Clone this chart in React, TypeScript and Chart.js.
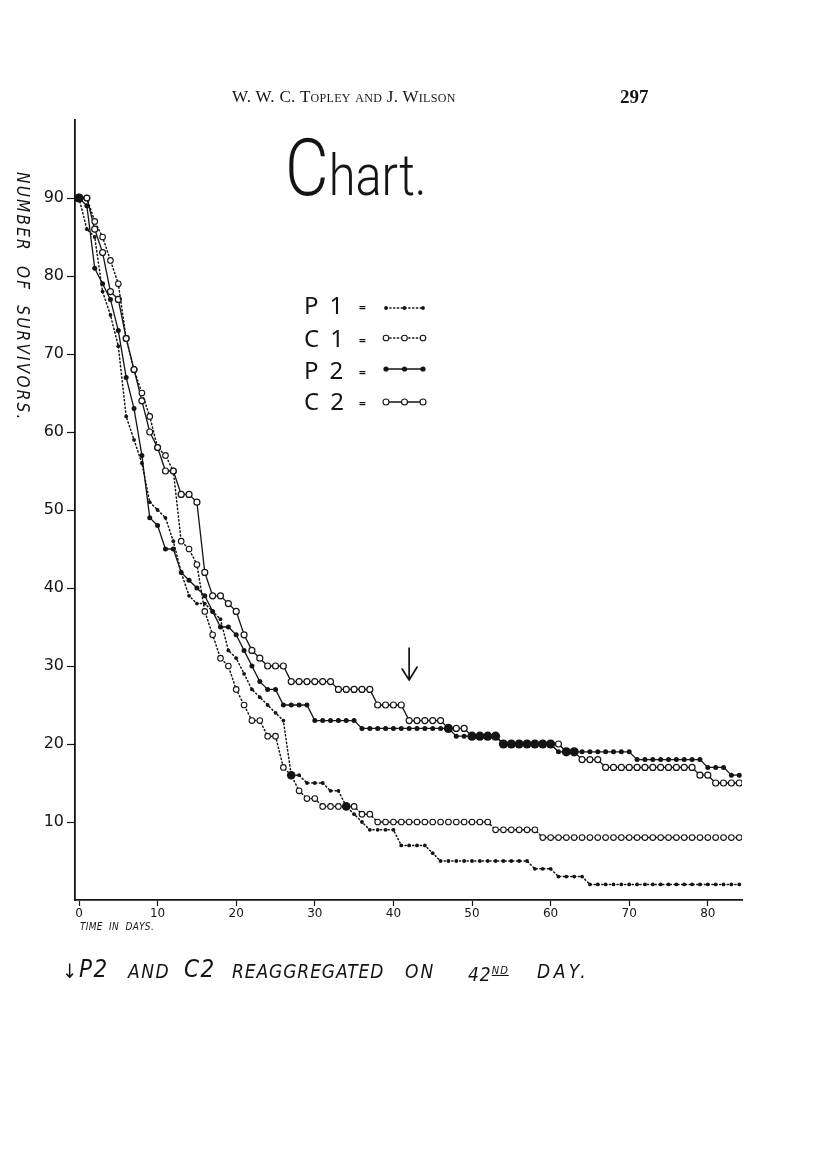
import React, { useEffect, useRef } from "react";
import { Chart, registerables } from "chart.js";

Chart.register(...registerables);

// ---- data ----
const DAYS = [
  0, 1, 2, 3, 4, 5, 6, 7, 8, 9,
  10, 11, 12, 13, 14, 15, 16, 17, 18, 19,
  20, 21, 22, 23, 24, 25, 26, 27, 28, 29,
  30, 31, 32, 33, 34, 35, 36, 37, 38, 39,
  40, 41, 42, 43, 44, 45, 46, 47, 48, 49,
  50, 51, 52, 53, 54, 55, 56, 57, 58, 59,
  60, 61, 62, 63, 64, 65, 66, 67, 68, 69,
  70, 71, 72, 73, 74, 75, 76, 77, 78, 79,
  80, 81, 82, 83, 84,
];

const P1 = [
  90, 86, 85, 78, 75, 71, 62, 59, 56, 51,
  50, 49, 46, 42, 39, 38, 38, 37, 36, 32,
  31, 29, 27, 26, 25, 24, 23, 16, 16, 15,
  15, 15, 14, 14, 12, 11, 10, 9, 9, 9,
  9, 7, 7, 7, 7, 6, 5, 5, 5, 5,
  5, 5, 5, 5, 5, 5, 5, 5, 4, 4,
  4, 3, 3, 3, 3, 2, 2, 2, 2, 2,
  2, 2, 2, 2, 2, 2, 2, 2, 2, 2,
  2, 2, 2, 2, 2,
];

const C1 = [
  90, 90, 87, 85, 82, 79, 72, 68, 65, 62,
  58, 57, 55, 46, 45, 43, 37, 34, 31, 30,
  27, 25, 23, 23, 21, 21, 17, 16, 14, 13,
  13, 12, 12, 12, 12, 12, 11, 11, 10, 10,
  10, 10, 10, 10, 10, 10, 10, 10, 10, 10,
  10, 10, 10, 9, 9, 9, 9, 9, 9, 8,
  8, 8, 8, 8, 8, 8, 8, 8, 8, 8,
  8, 8, 8, 8, 8, 8, 8, 8, 8, 8,
  8, 8, 8, 8, 8,
];

const P2 = [
  90, 89, 81, 79, 77, 73, 67, 63, 57, 49,
  48, 45, 45, 42, 41, 40, 39, 37, 35, 35,
  34, 32, 30, 28, 27, 27, 25, 25, 25, 25,
  23, 23, 23, 23, 23, 23, 22, 22, 22, 22,
  22, 22, 22, 22, 22, 22, 22, 22, 21, 21,
  21, 21, 21, 21, 20, 20, 20, 20, 20, 20,
  20, 19, 19, 19, 19, 19, 19, 19, 19, 19,
  19, 18, 18, 18, 18, 18, 18, 18, 18, 18,
  17, 17, 17, 16, 16,
];

const C2 = [
  90, 90, 86, 83, 78, 77, 72, 68, 64, 60,
  58, 55, 55, 52, 52, 51, 42, 39, 39, 38,
  37, 34, 32, 31, 30, 30, 30, 28, 28, 28,
  28, 28, 28, 27, 27, 27, 27, 27, 25, 25,
  25, 25, 23, 23, 23, 23, 23, 22, 22, 22,
  21, 21, 21, 21, 20, 20, 20, 20, 20, 20,
  20, 20, 19, 19, 18, 18, 18, 17, 17, 17,
  17, 17, 17, 17, 17, 17, 17, 17, 17, 16,
  16, 15, 15, 15, 15,
];

const X_TICKS = [0, 10, 20, 30, 40, 50, 60, 70, 80];
const Y_TICKS = [10, 20, 30, 40, 50, 60, 70, 80, 90];

// arrow marking reaggregation of P2 and C2 (day, from value, to value)
const ARROW_DAY = [42];
const ARROW_SPAN = [32.3, 28.2];

const INK = "#141414";

function toXY(vals: number[]) {
  return vals.map((v, i) => ({ x: DAYS[i], y: v }));
}

const overlayPlugin = {
  id: "overlay",
  afterDatasetsDraw(chart: any) {
    const { ctx } = chart;
    const xs = chart.scales.x;
    const ys = chart.scales.y;
    ctx.save();
    ctx.strokeStyle = INK;
    ctx.fillStyle = INK;
    ctx.lineCap = "round";
    ctx.lineJoin = "round";
    // arrow
    const ax = xs.getPixelForValue(ARROW_DAY[0]);
    const a1 = ys.getPixelForValue(ARROW_SPAN[0]);
    const a2 = ys.getPixelForValue(ARROW_SPAN[1]);
    ctx.lineWidth = 1.7;
    ctx.beginPath();
    ctx.moveTo(ax, a1);
    ctx.lineTo(ax, a2);
    ctx.moveTo(ax - 7, a2 - 11);
    ctx.lineTo(ax, a2);
    ctx.lineTo(ax + 8, a2 - 13);
    ctx.stroke();

    // legend samples
    const rows = [
      { y: 308, dashed: true, open: false, r: 1.9 },
      { y: 338, dashed: true, open: true, r: 2.8 },
      { y: 369, dashed: false, open: false, r: 2.6 },
      { y: 402, dashed: false, open: true, r: 3.0 },
    ];
    const px = [386, 404.5, 423];
    rows.forEach((row) => {
      ctx.lineWidth = row.dashed ? 1.5 : 1.3;
      ctx.setLineDash(row.dashed ? [1.2, 2.6] : []);
      ctx.beginPath();
      ctx.moveTo(px[0], row.y);
      ctx.lineTo(px[2], row.y);
      ctx.stroke();
      ctx.setLineDash([]);
      px.forEach((x) => {
        ctx.beginPath();
        ctx.arc(x, row.y, row.r, 0, Math.PI * 2);
        if (row.open) {
          ctx.fillStyle = "#fff";
          ctx.fill();
          ctx.lineWidth = 1.1;
          ctx.stroke();
          ctx.fillStyle = INK;
        } else {
          ctx.fill();
        }
      });
    });
    ctx.restore();
  },
};

function bigWhenShared(own: number[], other: number[], small: number, big: number) {
  return (c: any) => (own[c.dataIndex] === other[c.dataIndex] ? big : small);
}

export default function App() {
  const ref = useRef<HTMLCanvasElement | null>(null);

  useEffect(() => {
    if (!ref.current) return;
    const dotted = [1.2, 2.6];
    const chart = new Chart(ref.current, {
      type: "line",
      data: {
        datasets: [
          {
            label: "P1",
            data: toXY(P1),
            borderColor: INK,
            borderWidth: 1.5,
            borderDash: dotted,
            borderCapStyle: "round",
            pointRadius: bigWhenShared(P1, C1, 1.9, 4.3),
            pointBackgroundColor: INK,
            pointBorderColor: INK,
            pointBorderWidth: 0,
            tension: 0,
            fill: false,
          },
          {
            label: "C1",
            data: toXY(C1),
            borderColor: INK,
            borderWidth: 1.5,
            borderDash: dotted,
            borderCapStyle: "round",
            pointRadius: 2.8,
            pointBackgroundColor: "#fff",
            pointBorderColor: INK,
            pointBorderWidth: 1.1,
            tension: 0,
            fill: false,
          },
          {
            label: "P2",
            data: toXY(P2),
            borderColor: INK,
            borderWidth: 1.3,
            pointRadius: bigWhenShared(P2, C2, 2.5, 4.6),
            pointBackgroundColor: INK,
            pointBorderColor: INK,
            pointBorderWidth: 0,
            tension: 0,
            fill: false,
          },
          {
            label: "C2",
            data: toXY(C2),
            borderColor: INK,
            borderWidth: 1.3,
            pointRadius: 3.0,
            pointBackgroundColor: "#fff",
            pointBorderColor: INK,
            pointBorderWidth: 1.2,
            tension: 0,
            fill: false,
          },
        ],
      },
      options: {
        animation: false,
        responsive: false,
        maintainAspectRatio: false,
        layout: { padding: { left: 0, top: 120, right: 74, bottom: 243 } },
        plugins: { legend: { display: false }, tooltip: { enabled: false } },
        scales: {
          x: {
            type: "linear",
            min: -0.51,
            max: 84.35,
            afterFit: (s: any) => {
              s.height = 30;
            },
            afterBuildTicks: (s: any) => {
              s.ticks = X_TICKS.map((v) => ({ value: v }));
            },
            grid: {
              display: true,
              drawOnChartArea: false,
              drawTicks: true,
              tickLength: 6,
              tickColor: INK,
              tickWidth: 1.2,
            },
            border: { display: true, color: INK, width: 1.8 },
            ticks: {
              color: INK,
              font: { family: "DejaVu Sans", size: 12 },
              padding: 1,
              maxRotation: 0,
              autoSkip: false,
            },
          },
          y: {
            type: "linear",
            min: 0,
            max: 100,
            afterFit: (s: any) => {
              s.width = 75;
            },
            afterBuildTicks: (s: any) => {
              s.ticks = Y_TICKS.map((v) => ({ value: v }));
            },
            grid: {
              display: true,
              drawOnChartArea: false,
              drawTicks: true,
              tickLength: 8,
              tickColor: INK,
              tickWidth: 1.2,
            },
            border: { display: true, color: INK, width: 1.8 },
            ticks: {
              color: INK,
              font: { family: "DejaVu Sans", size: 16 },
              padding: 3,
              autoSkip: false,
            },
          },
        },
      },
      plugins: [overlayPlugin],
    } as any);
    return () => chart.destroy();
  }, []);

  const hand = '"DejaVu Sans Condensed", "DejaVu Sans", sans-serif';
  const abs: React.CSSProperties = { position: "absolute", whiteSpace: "nowrap", color: INK };

  return (
    <div style={{ position: "absolute", left: 0, top: 0, width: 816, height: 1173, background: "#fff" }}>
      <canvas ref={ref} width={816} height={1173} style={{ position: "absolute", left: 0, top: 0 }} />

      {/* running head */}
      <div style={{ ...abs, left: 232, top: 87, fontFamily: '"Liberation Serif", serif', fontSize: 17, fontVariant: "small-caps", letterSpacing: 0.3 }}>
        W. W. C. Topley and J. Wilson
      </div>
      <div style={{ ...abs, left: 620, top: 86, fontFamily: '"Liberation Serif", serif', fontSize: 19, fontWeight: 700 }}>297</div>

      {/* title */}
      <div style={{ ...abs, left: 285, top: 128, fontFamily: 'Roboto, "DejaVu Sans", sans-serif', fontWeight: 300, lineHeight: "80px", transform: "scaleX(0.84)", transformOrigin: "0 0" }}>
        <span style={{ fontSize: 80 }}>C</span>
        <span style={{ fontSize: 58 }}>hart.</span>
      </div>

      {/* legend labels */}
      {[
        { p: "P", n: "1", top: 293 },
        { p: "C", n: "1", top: 326 },
        { p: "P", n: "2", top: 358 },
        { p: "C", n: "2", top: 389 },
      ].map((r) => (
        <div key={r.p + r.n} style={{ ...abs, left: 304, top: r.top, fontFamily: '"Noto Sans", sans-serif', fontSize: 24, lineHeight: "23px" }}>
          {r.p}
          <span style={{ marginLeft: 11 }}>{r.n}</span>
          <span style={{ position: "absolute", left: 55, top: 3, fontSize: 12, fontWeight: 700 }}>=</span>
        </div>
      ))}

      {/* y axis title */}
      <div style={{ ...abs, left: 31, top: 172, transformOrigin: "0 0", transform: "rotate(90deg)", fontFamily: hand, fontStyle: "italic", fontSize: 17, lineHeight: "17px", letterSpacing: 2.2 }}>
        NUMBER&nbsp; OF&nbsp; SURVIVORS.
      </div>

      {/* x axis title */}
      <div style={{ ...abs, left: 80, top: 921, fontFamily: hand, fontStyle: "italic", fontSize: 10, letterSpacing: 0.3 }}>TIME&nbsp; IN&nbsp; DAYS.</div>

      {/* footnote */}
      <div style={{ ...abs, left: 62, top: 958, height: 30, width: 560, fontFamily: hand, fontStyle: "italic", fontSize: 19, lineHeight: "26px", letterSpacing: 0.9 }}>
        <span style={{ position: "absolute", left: 0, top: 0, fontSize: 20 }}>↓ </span>
        <span style={{ position: "absolute", left: 17, top: -2, fontSize: 24, letterSpacing: 1.5 }}>P2 </span>
        <span style={{ position: "absolute", left: 66, letterSpacing: 1.5 }}>AND </span>
        <span style={{ position: "absolute", left: 122, top: -2, fontSize: 24, letterSpacing: 1.5 }}>C2 </span>
        <span style={{ position: "absolute", left: 170 }}>REAGGREGATED </span>
        <span style={{ position: "absolute", left: 343, letterSpacing: 2 }}>ON </span>
        <span style={{ position: "absolute", left: 406, letterSpacing: 1 }}>
          42<span style={{ fontSize: 11, verticalAlign: "7px", textDecoration: "underline", letterSpacing: 1 }}>ND</span>{" "}
        </span>
        <span style={{ position: "absolute", left: 475, letterSpacing: 3.5 }}>DAY.</span>
      </div>
    </div>
  );
}
